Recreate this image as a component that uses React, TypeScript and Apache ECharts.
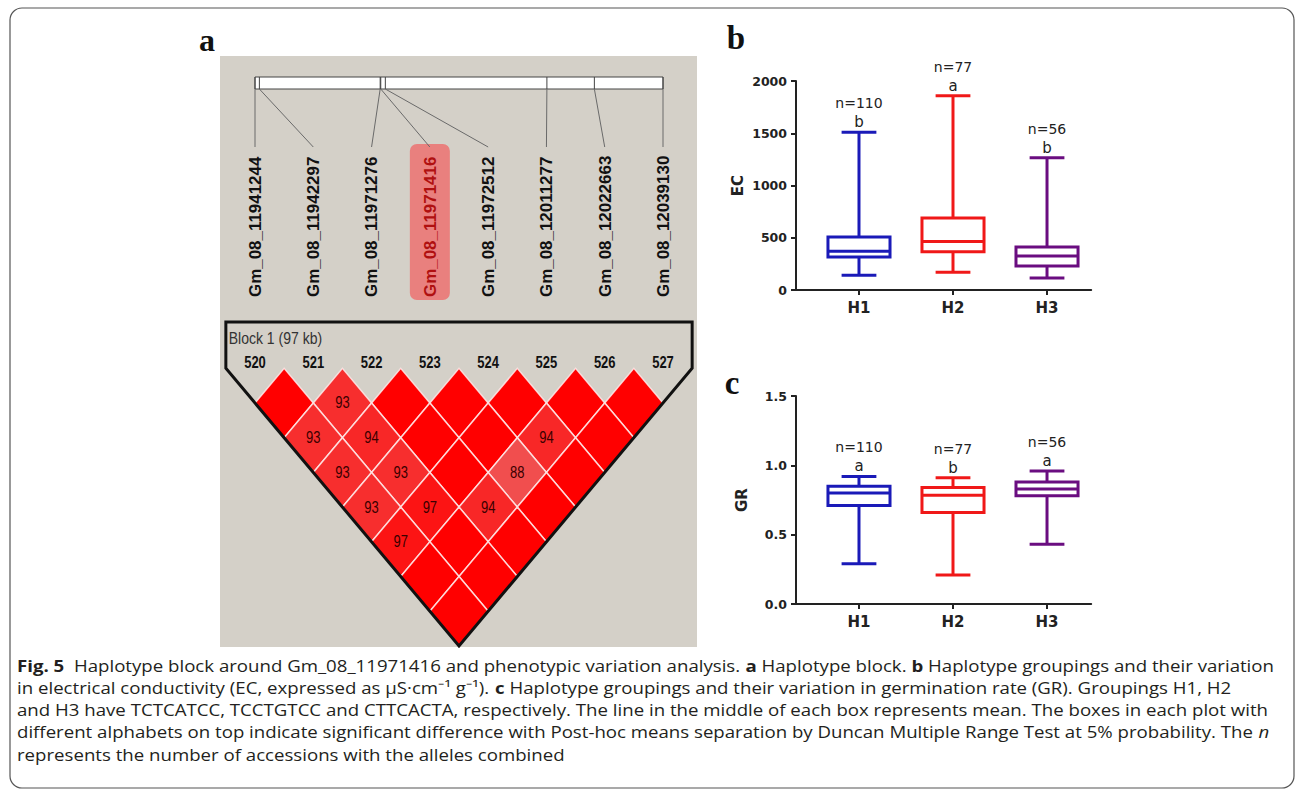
import React, { useEffect, useRef } from 'react';
import * as echarts from 'echarts';

// ---------- Panel a data ----------
const snpNames = [
  'Gm_08_11941244', 'Gm_08_11942297', 'Gm_08_11971276', 'Gm_08_11971416',
  'Gm_08_11972512', 'Gm_08_12011277', 'Gm_08_12022663', 'Gm_08_12039130',
];
const snpPositions = [11941244, 11942297, 11971276, 11971416, 11972512, 12011277, 12022663, 12039130];
const highlightSnp = 3;
const markerIds = ['520', '521', '522', '523', '524', '525', '526', '527'];
const blockLabel = 'Block 1 (97 kb)';
// D' (%) per diagonal row: row r holds pairs (k, k + r)
const ldRow1 = [100, 93, 100, 100, 100, 100, 100];
const ldRow2 = [93, 94, 100, 100, 94, 100];
const ldRow3 = [93, 93, 100, 88, 100];
const ldRow4 = [93, 97, 94, 100];
const ldRow5 = [97, 100, 100];
const ldRow6 = [100, 100];
const ldRow7 = [100];
const ldRows = [ldRow1, ldRow2, ldRow3, ldRow4, ldRow5, ldRow6, ldRow7];

// ---------- Panels b, c data ----------
const groups = ['H1', 'H2', 'H3'];
const groupN = ['n=110', 'n=77', 'n=56'];
const groupColors = ['#1a1ab8', '#f01818', '#6a0d80'];
const ecMin = [140, 170, 115];
const ecQ1 = [316, 365, 230];
const ecMean = [370, 465, 325];
const ecQ3 = [507, 690, 411];
const ecMax = [1510, 1860, 1265];
const ecLetters = ['b', 'a', 'b'];
const grMin = [0.29, 0.21, 0.43];
const grQ1 = [0.71, 0.66, 0.78];
const grMean = [0.8, 0.785, 0.83];
const grQ3 = [0.85, 0.84, 0.88];
const grMax = [0.92, 0.91, 0.96];
const grLetters = ['a', 'b', 'a'];

const captionLines = [
  '{b|Fig. 5}  Haplotype block around Gm_08_11971416 and phenotypic variation analysis. {b|a} Haplotype block. {b|b} Haplotype groupings and their variation',
  'in electrical conductivity (EC, expressed as μS·cm⁻¹ g⁻¹). {b|c} Haplotype groupings and their variation in germination rate (GR). Groupings H1, H2',
  'and H3 have TCTCATCC, TCCTGTCC and CTTCACTA, respectively. The line in the middle of each box represents mean. The boxes in each plot with',
  'different alphabets on top indicate significant difference with Post-hoc means separation by Duncan Multiple Range Test at 5% probability. The {i|n}',
  'represents the number of accessions with the alleles combined',
];

const BP_MIN = snpPositions[0];
const BP_MAX = snpPositions[snpPositions.length - 1];

function ldColor(v: number) {
  if (v >= 100) return '#ff0000';
  const t = (100 - v) / 12;
  const c = Math.round(t * 78);
  const r = Math.round(255 - t * 14);
  return `rgb(${r},${c},${c})`;
}

function boxRender(letters: string[]) {
  return (params: any, api: any) => {
    const x = api.value(0);
    const i = params.dataIndex;
    const lo = api.coord([x, api.value(1)]);
    const q1 = api.coord([x, api.value(2)]);
    const md = api.coord([x, api.value(3)]);
    const q3 = api.coord([x, api.value(4)]);
    const hi = api.coord([x, api.value(5)]);
    const unit = api.size([1, 0])[0];
    const bw = (unit * 0.66) / 2;
    const cw = (unit * 0.37) / 2;
    const color = groupColors[i];
    const ls = { stroke: color, lineWidth: 3, fill: 'none' };
    return {
      type: 'group',
      children: [
        { type: 'line', shape: { x1: hi[0], y1: hi[1], x2: q3[0], y2: q3[1] }, style: ls },
        { type: 'line', shape: { x1: q1[0], y1: q1[1], x2: lo[0], y2: lo[1] }, style: ls },
        { type: 'line', shape: { x1: hi[0] - cw, y1: hi[1], x2: hi[0] + cw, y2: hi[1] }, style: ls },
        { type: 'line', shape: { x1: lo[0] - cw, y1: lo[1], x2: lo[0] + cw, y2: lo[1] }, style: ls },
        { type: 'rect', shape: { x: q3[0] - bw, y: q3[1], width: bw * 2, height: q1[1] - q3[1] }, style: { ...ls, fill: '#ffffff' } },
        { type: 'line', shape: { x1: md[0] - bw, y1: md[1], x2: md[0] + bw, y2: md[1] }, style: ls },
        {
          type: 'text', x: hi[0], y: hi[1] - 10,
          style: { text: letters[i], fontFamily: 'DejaVu Sans', fontSize: 15, fill: '#222', align: 'center', verticalAlign: 'middle' },
        },
        {
          type: 'text', x: hi[0], y: hi[1] - 29,
          style: { text: groupN[i], fontFamily: 'DejaVu Sans', fontSize: 14, fill: '#222', align: 'center', verticalAlign: 'middle' },
        },
      ],
    };
  };
}

function boxXAxis(g: number) {
  return {
    gridIndex: g, type: 'value', min: 0.33, max: 3.47,
    splitLine: { show: false },
    axisLine: { show: true, onZero: false, lineStyle: { color: '#222', width: 2 } },
    axisTick: { show: true, customValues: [1, 2, 3], length: 5, lineStyle: { color: '#222', width: 2 } },
    axisLabel: {
      customValues: [1, 2, 3], formatter: (v: number) => groups[Math.round(v) - 1] || '',
      fontFamily: 'DejaVu Sans', fontWeight: 'bold', fontSize: 15, color: '#222', margin: 10,
    },
  };
}

function boxYAxis(g: number, max: number, interval: number, name: string, dec: number, gap: number) {
  return {
    gridIndex: g, type: 'value', min: 0, max, interval,
    name, nameLocation: 'middle', nameGap: gap, nameRotate: 90,
    nameTextStyle: { fontFamily: 'DejaVu Sans', fontWeight: 'bold', fontSize: 15, color: '#222' },
    splitLine: { show: false },
    axisLine: { show: true, lineStyle: { color: '#222', width: 2 } },
    axisTick: { show: true, length: 5, lineStyle: { color: '#222', width: 2 } },
    axisLabel: {
      formatter: (v: number) => v.toFixed(dec),
      fontFamily: 'DejaVu Sans', fontWeight: 'bold', fontSize: 12.5, color: '#222', margin: 9,
    },
  };
}

function buildOption() {
  const snpData = snpPositions.map((bp, k) => [bp, BP_MIN + (k * (BP_MAX - BP_MIN)) / (snpPositions.length - 1), k]);
  const ldData: number[][] = [];
  ldRows.forEach((row, ri) => {
    row.forEach((v, k) => ldData.push([k, k + ri + 1, v]));
  });
  const ecData = groups.map((_, i) => [i + 1, ecMin[i], ecQ1[i], ecMean[i], ecQ3[i], ecMax[i]]);
  const grData = groups.map((_, i) => [i + 1, grMin[i], grQ1[i], grMean[i], grQ3[i], grMax[i]]);

  const captionFont = 'Open Sans';
  const capSize = 16.5;

  return {
    animation: false,
    backgroundColor: '#ffffff',
    textStyle: { fontFamily: 'Liberation Sans' },
    grid: [
      { left: 255, top: 77, width: 408, height: 12, containLabel: false, outerBoundsMode: 'none' },
      { left: 255, top: 368.3, width: 408, height: 277.6, containLabel: false, outerBoundsMode: 'none' },
      { left: 796, top: 81, width: 295.2, height: 209, containLabel: false, outerBoundsMode: 'none' },
      { left: 796, top: 396, width: 295.2, height: 208, containLabel: false, outerBoundsMode: 'none' },
    ],
    xAxis: [
      { gridIndex: 0, type: 'value', min: BP_MIN, max: BP_MAX, show: false },
      { gridIndex: 1, type: 'value', min: 0, max: 7, show: false },
      boxXAxis(2),
      boxXAxis(3),
    ],
    yAxis: [
      { gridIndex: 0, type: 'value', min: 0, max: 1, inverse: true, show: false },
      { gridIndex: 1, type: 'value', min: 0, max: 8, inverse: true, show: false },
      boxYAxis(2, 2000, 500, 'EC', 0, 51),
      boxYAxis(3, 1.5, 0.5, 'GR', 1, 47),
    ],
    graphic: [
      { type: 'rect', z: 0, shape: { x: 220, y: 56, width: 477, height: 591 }, style: { fill: '#d4d0c8' } },
      { type: 'rect', z: 0, shape: { x: 10, y: 8, width: 1284, height: 780, r: 12 }, style: { fill: 'none', stroke: '#555', lineWidth: 1.2 } },
      { type: 'text', x: 207, y: 40, style: { text: 'a', fontFamily: 'Liberation Serif', fontWeight: 'bold', fontSize: 32, fill: '#111', align: 'center', verticalAlign: 'middle' } },
      { type: 'text', x: 736, y: 38, style: { text: 'b', fontFamily: 'Liberation Serif', fontWeight: 'bold', fontSize: 33, fill: '#111', align: 'center', verticalAlign: 'middle' } },
      { type: 'text', x: 732, y: 383, style: { text: 'c', fontFamily: 'Liberation Serif', fontWeight: 'bold', fontSize: 33, fill: '#111', align: 'center', verticalAlign: 'middle' } },
      ...captionLines.map((t, i) => ({
        type: 'text', x: 17, y: 665 + i * 22.25, scaleX: 1.13,
        style: {
          text: t, fontFamily: captionFont, fontSize: capSize, fill: '#231f20', align: 'left', verticalAlign: 'middle',
          rich: {
            b: { fontFamily: captionFont, fontSize: capSize, fontWeight: 'bold', fill: '#231f20' },
            i: { fontFamily: captionFont, fontSize: capSize, fontStyle: 'italic', fill: '#231f20' },
          },
        },
      })),
    ],
    series: [
      {
        type: 'custom', name: 'chromosome', xAxisIndex: 0, yAxisIndex: 0, clip: false, silent: true,
        data: [[BP_MIN, BP_MAX]],
        renderItem: (params: any, api: any) => {
          const a = api.coord([api.value(0), 0]);
          const b = api.coord([api.value(1), 1]);
          return { type: 'rect', shape: { x: a[0], y: a[1], width: b[0] - a[0], height: b[1] - a[1] }, style: { fill: '#ffffff', stroke: '#444', lineWidth: 1 } };
        },
      },
      {
        type: 'custom', name: 'snps', xAxisIndex: 0, yAxisIndex: 0, clip: false, silent: true, z: 3,
        data: snpData,
        renderItem: (params: any, api: any) => {
          const idx = api.value(2);
          const top = api.coord([api.value(0), 0]);
          const bot = api.coord([api.value(0), 1]);
          const lab = api.coord([api.value(1), 1]);
          const endY = bot[1] + 58;
          const base = bot[1] + 208;
          const hl = idx === highlightSnp;
          const children: any[] = [];
          if (hl) {
            children.push({ type: 'rect', shape: { x: lab[0] - 20, y: endY - 3, width: 40, height: 156, r: 7 }, style: { fill: '#e9807e' } });
          }
          children.push({ type: 'line', shape: { x1: top[0], y1: top[1], x2: top[0], y2: bot[1] }, style: { stroke: '#444', lineWidth: 1 } });
          children.push({ type: 'line', shape: { x1: bot[0], y1: bot[1], x2: lab[0], y2: endY }, style: { stroke: '#6a6a6a', lineWidth: 1 } });
          children.push({
            type: 'text', x: lab[0], y: base, rotation: Math.PI / 2, scaleX: 1.06,
            style: { text: snpNames[idx], fontFamily: 'Liberation Sans', fontWeight: 'bold', fontSize: 16, fill: hl ? '#b01010' : '#111', align: 'left', verticalAlign: 'middle' },
          });
          return { type: 'group', children };
        },
      },
      {
        type: 'custom', name: 'ld', xAxisIndex: 1, yAxisIndex: 1, clip: false, silent: true,
        data: ldData,
        renderItem: (params: any, api: any) => {
          const i = api.value(0);
          const j = api.value(1);
          const v = api.value(2);
          const cx = (i + j) / 2;
          const r = j - i;
          const pts = [[cx - 0.5, r], [cx, r - 1], [cx + 0.5, r], [cx, r + 1]].map((p) => api.coord(p));
          const children: any[] = [
            { type: 'polygon', shape: { points: pts }, style: { fill: ldColor(v), stroke: 'rgba(255,235,235,0.85)', lineWidth: 1.5 } },
          ];
          if (v < 100) {
            const c = api.coord([cx, r]);
            children.push({ type: 'text', x: c[0], y: c[1], scaleY: 1.2, style: { text: String(v), fontFamily: 'Liberation Sans', fontSize: 13, fill: '#3a0000', align: 'center', verticalAlign: 'middle' } });
          }
          return { type: 'group', children };
        },
      },
      {
        type: 'custom', name: 'ldFrame', xAxisIndex: 1, yAxisIndex: 1, clip: false, silent: true, z: 4,
        data: [[0, 0]],
        renderItem: (params: any, api: any) => {
          const n = markerIds.length;
          const topRow = -1.334;
          const outline = [[-0.5, topRow], [n - 0.5, topRow], [n - 0.5, 0], [(n - 1) / 2, n], [-0.5, 0]].map((p) => api.coord(p));
          const children: any[] = [
            { type: 'polygon', shape: { points: outline }, style: { fill: 'none', stroke: '#111', lineWidth: 3, lineJoin: 'miter' } },
          ];
          markerIds.forEach((m, k) => {
            const c = api.coord([k, -0.17]);
            children.push({ type: 'text', x: c[0], y: c[1], scaleY: 1.2, style: { text: m, fontFamily: 'Liberation Sans', fontWeight: 'bold', fontSize: 13, fill: '#111', align: 'center', verticalAlign: 'middle' } });
          });
          const bl = api.coord([-0.45, -0.87]);
          children.push({ type: 'text', x: bl[0], y: bl[1], scaleY: 1.15, style: { text: blockLabel, fontFamily: 'Liberation Sans', fontSize: 14, fill: '#333', align: 'left', verticalAlign: 'middle' } });
          return { type: 'group', children };
        },
      },
      {
        type: 'custom', name: 'EC', xAxisIndex: 2, yAxisIndex: 2, clip: false, silent: true,
        data: ecData, renderItem: boxRender(ecLetters),
      },
      {
        type: 'custom', name: 'GR', xAxisIndex: 3, yAxisIndex: 3, clip: false, silent: true,
        data: grData, renderItem: boxRender(grLetters),
      },
    ],
  };
}

export default function App() {
  const ref = useRef<HTMLDivElement>(null);
  useEffect(() => {
    document.body.style.margin = '0';
    const chart = echarts.init(ref.current as HTMLDivElement, null, { renderer: 'svg' });
    chart.setOption(buildOption() as any);
    return () => chart.dispose();
  }, []);
  return <div ref={ref} style={{ width: 1295, height: 793 }} />;
}
